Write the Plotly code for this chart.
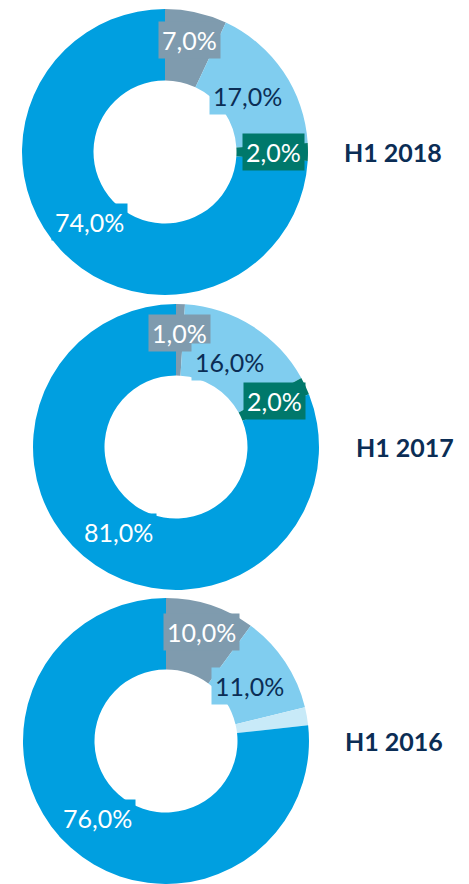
import math
import plotly.graph_objects as go

W, H = 469, 884

periods = ["H1 2018", "H1 2017", "H1 2016"]
segments = ["Gray", "Light blue", "Small", "Main"]

vals_2018 = [7, 17, 2, 74]
vals_2017 = [1, 16, 2, 81]
vals_2016 = [10, 11, 2, 76]

show_2018 = [True, True, True, True]
show_2017 = [True, True, True, True]
show_2016 = [True, True, False, True]

colors_2018 = ["#7f9bae", "#80cdef", "#00786b", "#009fe0"]
colors_2017 = ["#7f9bae", "#80cdef", "#00786b", "#009fe0"]
colors_2016 = ["#7f9bae", "#80cdef", "#c8eaf8", "#009fe0"]
text_colors = ["white", "#0b2d55", "white", "white"]

navy = "#0b2d55"
font = "Lato"

# donut centres / radius in pixels, and where the period title sits
centres = [(165, 152), (176, 447), (166, 741)]
R = 143
title_x = [342, 354, 343]
# label distance from centre, as a share of the outer radius, per slice
label_r = [0.8, 0.7, 0.76, 0.72]

fig = go.Figure()
annotations = []

data = [
    (vals_2018, show_2018, colors_2018),
    (vals_2017, show_2017, colors_2017),
    (vals_2016, show_2016, colors_2016),
]

for i, (vals, show, cols) in enumerate(data):
    cx, cy = centres[i]
    fig.add_trace(go.Pie(
        labels=segments,
        values=vals,
        marker=dict(colors=cols, line=dict(width=0)),
        hole=0.5,
        sort=False,
        direction="clockwise",
        rotation=0,
        textinfo="none",
        hoverinfo="label+value",
        showlegend=False,
        domain=dict(x=[(cx - R) / W, (cx + R) / W],
                    y=[1 - (cy + R) / H, 1 - (cy - R) / H]),
    ))

    # data labels with filled boxes, at the middle angle of each slice
    total = sum(vals)
    cum = 0
    for j, v in enumerate(vals):
        mid = 2 * math.pi * (cum + v / 2) / total
        cum += v
        if not show[j]:
            continue
        r = label_r[j] * R
        px = cx + r * math.sin(mid)
        py = cy - r * math.cos(mid)
        annotations.append(dict(
            x=px / W, y=1 - py / H, xref="paper", yref="paper",
            text=f"{v:.1f}".replace(".", ",") + "%",
            showarrow=False,
            font=dict(family=font, size=25, color=text_colors[j]),
            bgcolor=cols[j], borderpad=3,
            xanchor="center", yanchor="middle",
        ))

    annotations.append(dict(
        x=title_x[i] / W, y=1 - cy / H, xref="paper", yref="paper",
        text="<b>" + periods[i] + "</b>",
        showarrow=False,
        font=dict(family=font, size=25, color=navy),
        xanchor="left", yanchor="middle",
    ))

fig.update_layout(
    width=W, height=H,
    margin=dict(l=0, r=0, t=0, b=0),
    paper_bgcolor="white",
    plot_bgcolor="white",
    annotations=annotations,
)

# drop the browser's default body margin so the chart sits at 0,0
fig.write_html("out.html", config={"displayModeBar": False},
               post_script="document.body.style.margin='0';")
